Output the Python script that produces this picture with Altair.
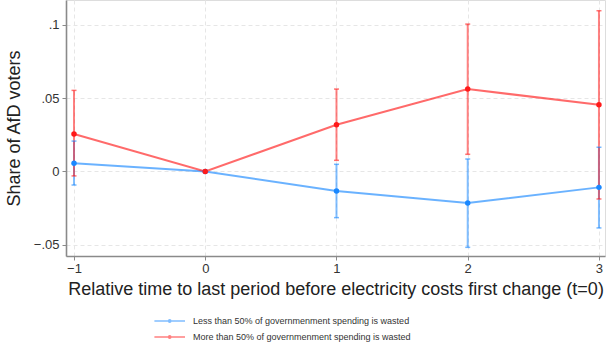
import altair as alt
import pandas as pd

# data
times = [-1, 0, 1, 2, 3]
less_est = [0.0056, 0.0, -0.0133, -0.0214, -0.0108]
less_lo = [-0.0092, 0.0, -0.0314, -0.0516, -0.0384]
less_hi = [0.0207, 0.0, 0.0049, 0.0085, 0.0165]
more_est = [0.0255, 0.0, 0.0318, 0.0561, 0.0454]
more_lo = [-0.0030, 0.0, 0.0076, 0.0117, -0.0187]
more_hi = [0.0552, 0.0, 0.0561, 0.1003, 0.1094]
groups = ["Less than 50% of governmenment spending is wasted",
          "More than 50% of governmenment spending is wasted"]
colors = ["#1a88ff", "#ff1a1a"]

rows = []
for t, e, lo, hi in zip(times, less_est, less_lo, less_hi):
    rows.append({"t": t, "est": e, "lo": lo, "hi": hi, "group": groups[0]})
for t, e, lo, hi in zip(times, more_est, more_lo, more_hi):
    rows.append({"t": t, "est": e, "lo": lo, "hi": hi, "group": groups[1]})
df = pd.DataFrame(rows)
ci = df[df["t"] != 0]

FONT = "Liberation Sans"
xscale = alt.Scale(domain=[-1.061, 3.046], nice=False, zero=False)
yscale = alt.Scale(domain=[-0.0575, 0.1167], nice=False, zero=False)
cscale = alt.Scale(domain=groups, range=colors)

# wide line-with-dot legend glyph (extends left of the nominal symbol box)
legend_shape = ("M-2.4,0L1,0 "
                "M-0.82,0A0.12,0.12 0 1,0 -0.58,0A0.12,0.12 0 1,0 -0.82,0Z")

xaxis = alt.Axis(values=times, format="d", title="Relative time to last period before electricity costs first change (t=0)",
                 grid=True, gridDash=[4, 3], gridColor="#e6e6e6", titleFontSize=18,
                 titleFontWeight="normal", titleColor="#222", titlePadding=5,
                 labelFontSize=13, labelColor="#333", domainColor="#8a8a8a", domainWidth=1.6,
                 tickColor="#8a8a8a", tickSize=4, labelPadding=2)
yaxis = alt.Axis(values=[-0.05, 0, 0.05, 0.1],
                 labelExpr="datum.value == 0 ? '0' : replace(format(datum.value, '.2~f'), '0.', '.')",
                 title="Share of AfD voters", grid=True, gridDash=[4, 3], gridColor="#e6e6e6",
                 titleFontSize=18, titleFontWeight="normal", titleColor="#222", titlePadding=10,
                 labelFontSize=13, labelColor="#333", domainColor="#8a8a8a", domainWidth=1.6,
                 tickColor="#8a8a8a", tickSize=4, labelPadding=3)

base = alt.Chart(df)

lines = base.mark_line(strokeWidth=2, opacity=0.65).encode(
    x=alt.X("t:Q", scale=xscale, axis=xaxis),
    y=alt.Y("est:Q", scale=yscale, axis=yaxis),
    color=alt.Color("group:N", scale=cscale,
                    legend=alt.Legend(title=None, orient="none", legendX=100, legendY=311,
                                      symbolType=legend_shape, symbolSize=324,
                                      symbolStrokeWidth=1.6, symbolOpacity=0.85,
                                      labelFont=FONT, labelFontSize=9, labelColor="#333",
                                      rowPadding=1, labelOffset=7, labelLimit=400)),
)

rules = alt.Chart(ci).mark_rule(strokeWidth=2, opacity=0.55).encode(
    x="t:Q", y="lo:Q", y2="hi:Q",
    color=alt.Color("group:N", scale=cscale),
)
caps_lo = alt.Chart(ci).mark_tick(orient="horizontal", size=5, thickness=1.5, opacity=0.6).encode(
    x="t:Q", y="lo:Q", color=alt.Color("group:N", scale=cscale))
caps_hi = alt.Chart(ci).mark_tick(orient="horizontal", size=5, thickness=1.5, opacity=0.6).encode(
    x="t:Q", y="hi:Q", color=alt.Color("group:N", scale=cscale))

points = base.mark_point(filled=True, size=30, opacity=1).encode(
    x="t:Q", y="est:Q", color=alt.Color("group:N", scale=cscale),
)

chart = alt.layer(lines, rules, caps_lo, caps_hi, points).properties(
    width=539, height=256, autosize="none",
    padding={"left": 66, "top": 0, "right": 6, "bottom": 90},
).configure_view(stroke=None).configure(font=FONT, background="white")

chart.save("out.html", embed_options={"renderer": "svg", "actions": False})
